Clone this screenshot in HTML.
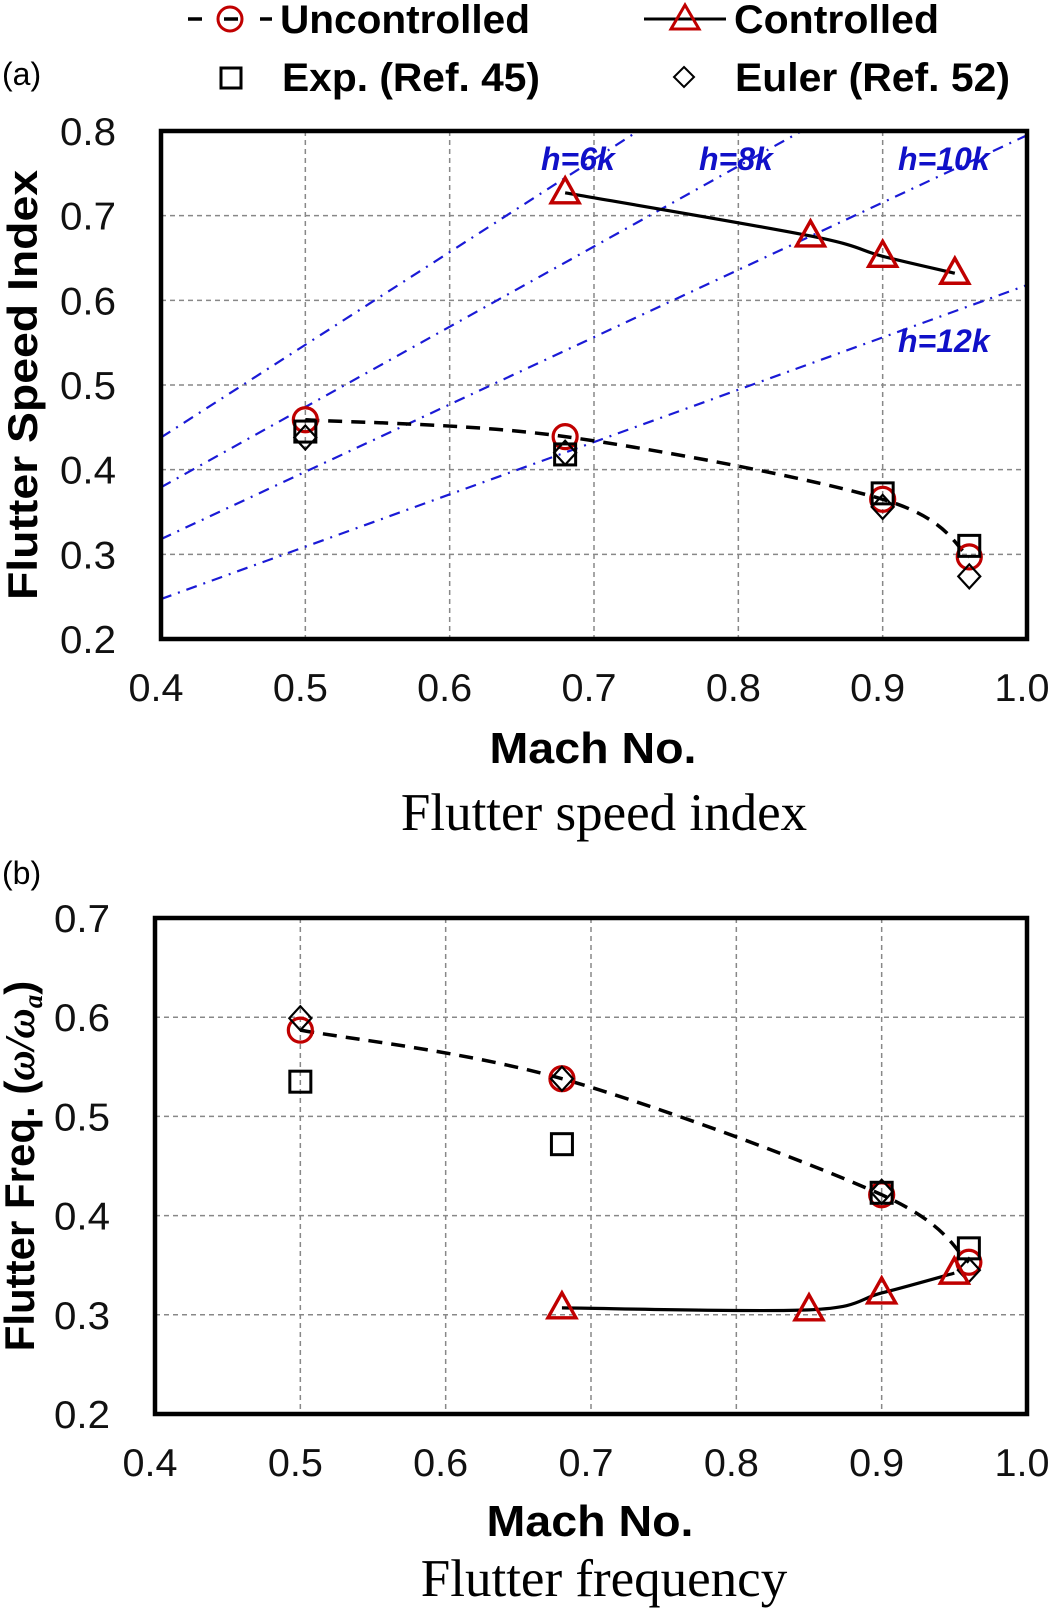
<!DOCTYPE html>
<html><head><meta charset="utf-8"><style>
html,body{margin:0;padding:0;background:#fff;}
svg{display:block;font-family:"Liberation Sans",Arial,sans-serif;}
</style></head><body>
<svg id="fig" width="1050" height="1611" viewBox="0 0 1050 1611" xmlns="http://www.w3.org/2000/svg">
<defs>
<clipPath id="clipA"><rect x="161" y="131" width="866" height="509"/></clipPath>
</defs>
<g id="legend">
  <g>
    <line x1="188" y1="19" x2="272" y2="19" stroke="#000" stroke-width="3.5" stroke-dasharray="14,22"/>
    <circle cx="230" cy="19" r="12" fill="none" stroke="#c00000" stroke-width="3"/>
    <text x="280" y="33" font-size="40" font-weight="bold" textLength="250" lengthAdjust="spacingAndGlyphs">Uncontrolled</text>
  </g>
  <g>
    <line x1="644" y1="19" x2="726" y2="19" stroke="#000" stroke-width="3"/>
    <polygon points="685,5 699,29 671,29" fill="none" stroke="#c00000" stroke-width="3"/>
    <text x="734" y="33" font-size="40" font-weight="bold" textLength="205" lengthAdjust="spacingAndGlyphs">Controlled</text>
  </g>
  <g>
    <rect x="221" y="68" width="20" height="20" fill="none" stroke="#000" stroke-width="3"/>
    <text x="282" y="91" font-size="40" font-weight="bold" textLength="258" lengthAdjust="spacingAndGlyphs">Exp. (Ref. 45)</text>
  </g>
  <g>
    <polygon points="684,67 694,77 684,87 674,77" fill="none" stroke="#000" stroke-width="2"/>
    <text x="735" y="91" font-size="40" font-weight="bold" textLength="275" lengthAdjust="spacingAndGlyphs">Euler (Ref. 52)</text>
  </g>
</g>
<text x="2" y="85" font-size="32">(a)</text>
<text x="2" y="884" font-size="32">(b)</text>
<g id="chartA"></g>
<g id="chartB"></g>
</svg>
<script>
const NS = 'http://www.w3.org/2000/svg';
// ---- Chart (a) data ----
const machTicks = [0.4, 0.5, 0.6, 0.7, 0.8, 0.9, 1.0];
const machTickLabels = ['0.4', '0.5', '0.6', '0.7', '0.8', '0.9', '1.0'];
const speedTicks = [0.2, 0.3, 0.4, 0.5, 0.6, 0.7, 0.8];
const speedTickLabels = ['0.2', '0.3', '0.4', '0.5', '0.6', '0.7', '0.8'];
const uncMach = [0.5, 0.68, 0.9, 0.96];
const uncSpeed = [0.459, 0.439, 0.365, 0.297];
const ctrlMach = [0.68, 0.85, 0.9, 0.95];
const ctrlSpeed = [0.727, 0.676, 0.652, 0.632];
const expMach = [0.5, 0.68, 0.9, 0.96];
const expSpeed = [0.445, 0.418, 0.372, 0.31];
const eulerMach = [0.5, 0.68, 0.9, 0.96];
const eulerSpeed = [0.438, 0.42, 0.356, 0.274];
const altitudeNames = ['h=6k', 'h=8k', 'h=10k', 'h=12k'];
const altitudeSlope = [1.095, 0.948, 0.795, 0.618];
// ---- Chart (b) data ----
const freqTicks = [0.2, 0.3, 0.4, 0.5, 0.6, 0.7];
const freqTickLabels = ['0.2', '0.3', '0.4', '0.5', '0.6', '0.7'];
const uncFreq = [0.587, 0.538, 0.421, 0.353];
const ctrlFreq = [0.307, 0.305, 0.322, 0.342];
const expFreq = [0.535, 0.472, 0.423, 0.367];
const eulerFreq = [0.599, 0.538, 0.424, 0.345];

function mk(tag, attrs, parent) {
  const e = document.createElementNS(NS, tag);
  for (const k in attrs) e.setAttribute(k, attrs[k]);
  parent.appendChild(e);
  return e;
}
function smoothPath(pts) {
  let d = 'M' + pts[0][0] + ',' + pts[0][1];
  for (let i = 0; i < pts.length - 1; i++) {
    const p0 = pts[Math.max(0, i - 1)], p1 = pts[i], p2 = pts[i + 1], p3 = pts[Math.min(pts.length - 1, i + 2)];
    const t = 1 / 6;
    const c1x = p1[0] + (p2[0] - p0[0]) * t, c1y = p1[1] + (p2[1] - p0[1]) * t;
    const c2x = p2[0] - (p3[0] - p1[0]) * t, c2y = p2[1] - (p3[1] - p1[1]) * t;
    d += ' C' + c1x + ',' + c1y + ' ' + c2x + ',' + c2y + ' ' + p2[0] + ',' + p2[1];
  }
  return d;
}
function drawChart(g, box, yMin, yMax, yTicks, yLabels, opts) {
  const xs = v => box.x0 + (v - 0.4) / 0.6 * (box.x1 - box.x0);
  const ys = v => box.y1 - (v - yMin) / (yMax - yMin) * (box.y1 - box.y0);
  machTicks.forEach(t => {
    if (t <= 0.4 || t >= 1.0) return;
    const l = mk('line', {x1: xs(t), x2: xs(t), y1: box.y0, y2: box.y1, stroke: '#888', 'stroke-width': 1.5, 'stroke-dasharray': '5,4'}, g);
    
    
  });
  yTicks.forEach(t => {
    if (t <= yMin || t >= yMax) return;
    const l = mk('line', {x1: box.x0, x2: box.x1, y1: ys(t), y2: ys(t), stroke: '#888', 'stroke-width': 1.5, 'stroke-dasharray': '5,4'}, g);
    
    
  });
  machTicks.forEach((t, i) => {
    const tx = mk('text', {x: xs(t) - 5, y: box.y1 + 62, 'font-size': 39, 'text-anchor': 'middle', fill: '#111', textLength: 55, lengthAdjust: 'spacingAndGlyphs'}, g);
    tx.textContent = machTickLabels[i];
    
    
  });
  yTicks.forEach((t, i) => {
    const tx = mk('text', {x: box.x0 - 45, y: ys(t) + 14, 'font-size': 39, 'text-anchor': 'end', fill: '#111', textLength: 56, lengthAdjust: 'spacingAndGlyphs'}, g);
    tx.textContent = yLabels[i];
    
    
  });
  if (opts.extra) opts.extra(g, xs, ys);
  const unc = mk('path', {d: smoothPath(uncMach.map((m, i) => [xs(m), ys(opts.unc[i])])), fill: 'none', stroke: '#000', 'stroke-width': 3.5, 'stroke-dasharray': '14,9'}, g);
  
  
  const ctl = mk('path', {d: smoothPath(ctrlMach.map((m, i) => [xs(m), ys(opts.ctrl[i])])), fill: 'none', stroke: '#000', 'stroke-width': 3.2}, g);
  
  
  uncMach.forEach((m, i) => {
    const c = mk('circle', {cx: xs(m), cy: ys(opts.unc[i]), r: 12, fill: 'none', stroke: '#c00000', 'stroke-width': 3.2}, g);
    
    
  });
  expMach.forEach((m, i) => {
    const x = xs(m), y = ys(opts.exp[i]);
    const r = mk('rect', {x: x - 10.5, y: y - 10.5, width: 21, height: 21, fill: 'none', stroke: '#000', 'stroke-width': 3}, g);
    
    
  });
  eulerMach.forEach((m, i) => {
    const x = xs(m), y = ys(opts.euler[i]);
    const p = mk('polygon', {points: `${x},${y-12} ${x+11},${y} ${x},${y+12} ${x-11},${y}`, fill: 'none', stroke: '#000', 'stroke-width': 2.2}, g);
    
    
  });
  ctrlMach.forEach((m, i) => {
    const x = xs(m), y = ys(opts.ctrl[i]);
    const p = mk('polygon', {points: `${x},${y-15} ${x+14},${y+10} ${x-14},${y+10}`, fill: 'none', stroke: '#c00000', 'stroke-width': 3.4}, g);
    
    
  });
  const f = mk('rect', {x: box.x0, y: box.y0, width: box.x1 - box.x0, height: box.y1 - box.y0, fill: 'none', stroke: '#000', 'stroke-width': 4.5}, g);
  
  
  const xt = mk('text', {x: opts.titleX, y: box.y1 + opts.titleOff, 'font-size': 44, 'font-weight': 'bold', 'text-anchor': 'middle', textLength: 207, lengthAdjust: 'spacingAndGlyphs'}, g);
  xt.textContent = 'Mach No.';
  
  
  const cap = mk('text', {x: opts.capX, y: box.y1 + opts.capOff, 'font-size': 53, 'text-anchor': 'middle', 'font-family': '"Liberation Serif", serif'}, g);
  cap.textContent = opts.caption;
  
  
}

const gA = document.getElementById('chartA');
drawChart(gA, {x0: 161, x1: 1027, y0: 131, y1: 639}, 0.2, 0.8, speedTicks, speedTickLabels, {
  unc: uncSpeed, ctrl: ctrlSpeed, exp: expSpeed, euler: eulerSpeed, caption: 'Flutter speed index',
  titleOff: 124, capOff: 191, titleX: 593, capX: 604,
  extra: (g, xs, ys) => {
    const cg = mk('g', {'clip-path': 'url(#clipA)'}, g);
    altitudeSlope.forEach((k, i) => {
      const l = mk('line', {x1: xs(0.4), y1: ys(0.4 * k), x2: xs(1.0), y2: ys(1.0 * k), stroke: '#1a1ad6', 'stroke-width': 2.2, 'stroke-dasharray': '11,7,2,7'}, cg);
      
      
    });
    const lab = [[541, 170], [699, 170], [898, 170], [898, 352]];
    altitudeNames.forEach((n, i) => {
      const t = mk('text', {x: lab[i][0], y: lab[i][1], 'font-size': 32, 'font-weight': 'bold', 'font-style': 'italic', fill: '#1010c8'}, g);
      t.textContent = n;
      
      
    });
  }
});
const yta = mk('text', {x: 0, y: 0, 'font-size': 42, 'font-weight': 'bold', 'text-anchor': 'middle', textLength: 430, lengthAdjust: 'spacingAndGlyphs', transform: 'translate(37,385) rotate(-90)'}, gA);
yta.textContent = 'Flutter Speed Index';



const gB = document.getElementById('chartB');
drawChart(gB, {x0: 155, x1: 1027, y0: 918, y1: 1414}, 0.2, 0.7, freqTicks, freqTickLabels, {
  unc: uncFreq, ctrl: ctrlFreq, exp: expFreq, euler: eulerFreq, caption: 'Flutter frequency',
  titleOff: 122, capOff: 182, titleX: 590, capX: 604
});
const ytb = mk('text', {x: 0, y: 0, 'font-size': 42, 'font-weight': 'bold', 'text-anchor': 'middle', transform: 'translate(34,1166) rotate(-90)'}, gB);
ytb.innerHTML = 'Flutter Freq. (<tspan font-family="Liberation Serif, serif" font-style="italic">ω/ω</tspan><tspan font-family="Liberation Serif, serif" font-style="italic" font-size="27" dy="8">a</tspan><tspan dy="-8">)</tspan>';


</script>
</body></html>
